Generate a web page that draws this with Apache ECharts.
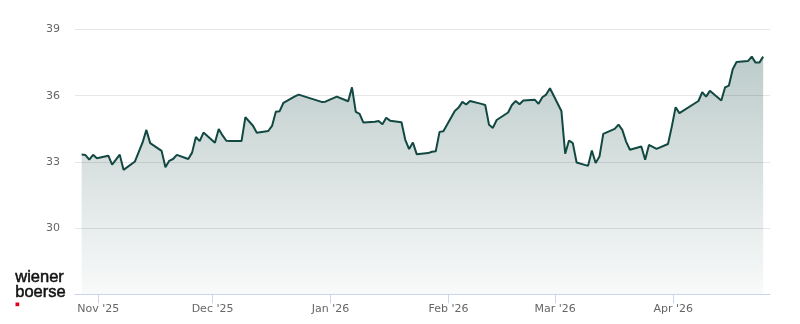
<!DOCTYPE html>
<html>
<head>
<meta charset="utf-8">
<script src="https://cdn.jsdelivr.net/npm/echarts@6/dist/echarts.min.js"></script>
<style>
  html, body { margin: 0; padding: 0; background: #ffffff; }
  #chart { width: 800px; height: 324px; }
</style>
</head>
<body>
<div id="chart"></div>
<script>
// Trading dates (close) and prices
var dates = [
  '2025-10-27','2025-10-28','2025-10-29','2025-10-30','2025-10-31',
  '2025-11-03','2025-11-04','2025-11-05','2025-11-06','2025-11-07',
  '2025-11-10','2025-11-11','2025-11-12','2025-11-13','2025-11-14',
  '2025-11-17','2025-11-18','2025-11-19','2025-11-20','2025-11-21',
  '2025-11-24','2025-11-25','2025-11-26','2025-11-27','2025-11-28',
  '2025-12-01','2025-12-02','2025-12-03','2025-12-04','2025-12-05',
  '2025-12-08','2025-12-09','2025-12-10','2025-12-11','2025-12-12',
  '2025-12-15','2025-12-16','2025-12-17','2025-12-18','2025-12-19',
  '2025-12-22','2025-12-23','2025-12-29','2025-12-30','2026-01-02',
  '2026-01-05','2026-01-06','2026-01-07','2026-01-08','2026-01-09',
  '2026-01-12','2026-01-13','2026-01-14','2026-01-15','2026-01-16',
  '2026-01-19','2026-01-20','2026-01-21','2026-01-22','2026-01-23',
  '2026-01-26','2026-01-27','2026-01-28','2026-01-29','2026-01-30',
  '2026-02-02','2026-02-03','2026-02-04','2026-02-05','2026-02-06',
  '2026-02-09','2026-02-10','2026-02-11','2026-02-12','2026-02-13',
  '2026-02-16','2026-02-17','2026-02-18','2026-02-19','2026-02-20',
  '2026-02-23','2026-02-24','2026-02-25','2026-02-26','2026-02-27',
  '2026-03-02','2026-03-03','2026-03-04','2026-03-05','2026-03-06',
  '2026-03-09','2026-03-10','2026-03-11','2026-03-12','2026-03-13',
  '2026-03-16','2026-03-17','2026-03-18','2026-03-19','2026-03-20',
  '2026-03-23','2026-03-24','2026-03-25','2026-03-26','2026-03-27',
  '2026-03-30','2026-03-31','2026-04-01','2026-04-02','2026-04-07',
  '2026-04-08','2026-04-09','2026-04-10','2026-04-13','2026-04-14',
  '2026-04-15','2026-04-16','2026-04-17','2026-04-20','2026-04-21',
  '2026-04-22','2026-04-23','2026-04-24'
];
var prices = [
  33.33, 33.31, 33.10, 33.32, 33.17,
  33.28, 32.88, 33.10, 33.33, 32.64,
  33.02, 33.45, 33.88, 34.45, 33.85,
  33.50, 32.76, 33.05, 33.13, 33.32,
  33.13, 33.42, 34.13, 33.94, 34.33,
  33.87, 34.49, 34.20, 33.96, 33.95,
  33.95, 35.03, 34.83, 34.64, 34.32,
  34.40, 34.63, 35.27, 35.30, 35.68,
  35.97, 36.05, 35.72, 35.73, 35.96,
  35.75, 36.38, 35.27, 35.18, 34.78,
  34.82, 34.85, 34.71, 35.00, 34.87,
  34.80, 34.00, 33.58, 33.88, 33.35,
  33.40, 33.46, 33.48, 34.36, 34.39,
  35.31, 35.46, 35.72, 35.60, 35.76,
  35.63, 35.58, 34.68, 34.54, 34.90,
  35.24, 35.58, 35.76, 35.61, 35.78,
  35.82, 35.63, 35.93, 36.05, 36.34,
  35.31, 33.37, 33.97, 33.85, 32.97,
  32.82, 33.52, 32.95, 33.24, 34.27,
  34.50, 34.69, 34.45, 33.92, 33.55,
  33.70, 33.10, 33.77, 33.68, 33.59,
  33.81, 34.60, 35.48, 35.21, 35.76,
  36.16, 35.96, 36.22, 35.78, 36.38,
  36.46, 37.20, 37.53, 37.57, 37.77,
  37.50, 37.50, 37.77
];
var monthTickDates = ['2025-11-01','2025-12-01','2026-01-01','2026-02-01','2026-03-01','2026-04-01'];
var monthNames = ['Jan','Feb','Mar','Apr','May','Jun','Jul','Aug','Sep','Oct','Nov','Dec'];
var yMin = 27, yMax = 39, yStep = 3;

function parseDate(s, hour) {
  var p = s.split('-');
  return new Date(+p[0], +p[1] - 1, +p[2], hour || 0, 0, 0).getTime();
}
var seriesData = dates.map(function (d, i) { return [parseDate(d, 15), prices[i]]; });
var monthTicks = monthTickDates.map(function (d) { return parseDate(d, 0); });

var chart = echarts.init(document.getElementById('chart'), null, { renderer: 'canvas' });
var font = 'DejaVu Sans, sans-serif';
var logoFont = '16.5px "Liberation Sans", Arial, sans-serif';
chart.setOption({
  animation: false,
  backgroundColor: '#ffffff',
  grid: { left: 75, right: 30, top: 29.5, bottom: 29.7, containLabel: false },
  xAxis: {
    type: 'value',
    scale: true,
    min: new Date(2025, 9, 25, 21).getTime(),
    max: new Date(2026, 3, 26, 10).getTime(),
    axisLine: { show: true, lineStyle: { color: '#ccd6eb', width: 1 } },
    axisTick: { show: true, length: 9, lineStyle: { color: '#ccd6eb' }, customValues: monthTicks },
    axisLabel: {
      customValues: monthTicks,
      showMinLabel: true, showMaxLabel: true,
      color: '#666666', fontSize: 11, fontFamily: font, margin: 9,
      formatter: function (v) {
        var d = new Date(v);
        return monthNames[d.getMonth()] + " '" + String(d.getFullYear()).slice(2);
      }
    },
    splitLine: { show: false }
  },
  yAxis: {
    type: 'value', min: yMin, max: yMax, interval: yStep,
    axisLine: { show: false }, axisTick: { show: false },
    axisLabel: {
      color: '#666666', fontSize: 11, fontFamily: font, margin: 15,
      formatter: function (v) { return v === yMin ? '' : String(v); }
    },
    splitLine: { lineStyle: { color: '#e6e6e6', width: 1 } }
  },
  series: [{
    type: 'line',
    data: seriesData,
    showSymbol: false,
    symbol: 'none',
    lineStyle: { color: '#124842', width: 2 },
    areaStyle: {
      color: new echarts.graphic.LinearGradient(0, 0, 0, 1, [
        { offset: 0, color: 'rgba(18,72,66,0.40)' },
        { offset: 1, color: 'rgba(18,72,66,0.04)' }
      ])
    }
  }],
  graphic: [
    { type: 'text', left: 15, top: 268.5, style: { text: 'wiener', font: logoFont, fill: '#111111', stroke: '#111111', lineWidth: 0.5 } },
    { type: 'text', left: 15, top: 284, style: { text: 'boerse', font: logoFont, fill: '#111111', stroke: '#111111', lineWidth: 0.5 } },
    { type: 'rect', shape: { x: 15.5, y: 302.5, width: 3.7, height: 3.7 }, style: { fill: '#e2001a' } }
  ]
});
</script>
</body>
</html>
